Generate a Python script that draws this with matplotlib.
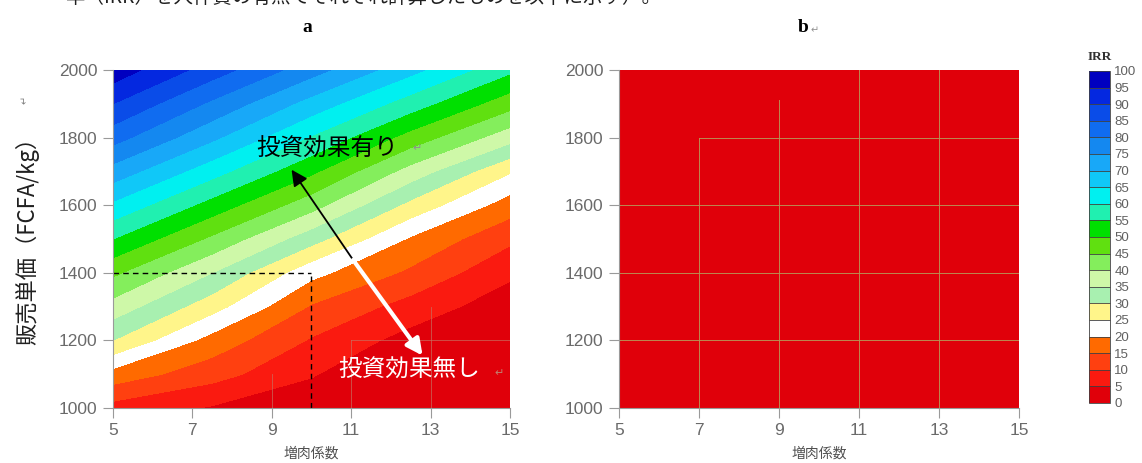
import numpy as np
import matplotlib
matplotlib.use('Agg')
import matplotlib.pyplot as plt
from matplotlib.colors import ListedColormap, BoundaryNorm
import matplotlib.cm as cm

# ---------------- data ----------------
x_fcr = [5, 7.5, 10, 12.5, 15]                       # 増肉係数
y_price = [1000, 1100, 1200, 1300, 1400, 1500,
           1600, 1700, 1800, 1900, 2000]             # 販売単価 (FCFA/kg)
# IRR (%) for panel a, rows = price, columns = 増肉係数
irr_a = [
    [8.0, 4.5, 1.0, -7.0, -15.0],
    [18.0, 12.0, 5.5, -1.5, -9.0],
    [30.0, 18.0, 9.5, 3.0, -3.0],
    [38.0, 27.0, 14.5, 8.0, 2.0],
    [46.0, 35.0, 21.5, 14.0, 6.0],
    [55.0, 44.0, 32.0, 19.3, 11.0],
    [64.0, 53.0, 42.0, 28.5, 17.5],
    [73.0, 62.0, 51.0, 38.0, 25.5],
    [82.0, 71.0, 59.5, 48.0, 37.0],
    [90.0, 79.0, 68.0, 57.5, 47.0],
    [98.0, 87.5, 77.0, 66.5, 56.0],
]
# panel b: IRR below 0 everywhere
x_b = [5, 15]
y_b = [1000, 2000]
irr_b = [[-20.0, -30.0],
         [-5.0, -12.0]]

irr_levels = list(range(0, 105, 5))
irr_colors = ['#E0000A', '#FA1A10', '#FF4010', '#FF6A00', '#FFFFFF',
              '#FFF58A', '#A8F0B0', '#CEF8A8', '#84EE5C', '#60E010',
              '#00E000', '#20F0B0', '#00F0F0', '#10C8F8', '#18A8F8',
              '#1488F0', '#106CF0', '#0A4CE8', '#0428E0', '#0000C0']

x_ticks = [5, 7, 9, 11, 13, 15]
y_ticks = [1000, 1200, 1400, 1600, 1800, 2000]

# reference point (dashed guides)
ref_x, ref_y = 10, 1400

# ---------------- figure ----------------
fig = plt.figure(figsize=(11.42, 4.63), dpi=100)
cmap = ListedColormap(irr_colors)
cmap.set_under(irr_colors[0])
norm = BoundaryNorm(irr_levels, cmap.N)

ax_a = fig.add_axes([0.0989, 0.1188, 0.3476, 0.7300])
ax_b = fig.add_axes([0.5420, 0.1188, 0.3503, 0.7300])
cax = fig.add_axes([0.9536, 0.1296, 0.0184, 0.7171])

ax_a.contourf(x_fcr, y_price, np.array(irr_a), levels=irr_levels,
              cmap=cmap, norm=norm, extend='min')
ax_b.contourf(x_b, y_b, np.array(irr_b), levels=irr_levels,
              cmap=cmap, norm=norm, extend='min')

tick_gray = '#6a6a6a'
for ax in (ax_a, ax_b):
    ax.set_xlim(5, 15)
    ax.set_ylim(1000, 2000)
    ax.set_xticks(x_ticks)
    ax.set_yticks(y_ticks)
    for s in ('top', 'right'):
        ax.spines[s].set_visible(False)
    for s in ('left', 'bottom'):
        ax.spines[s].set_color('#9a9a9a')
        ax.spines[s].set_linewidth(0.8)
    ax.tick_params(direction='out', length=7, width=0.8, color='#9a9a9a',
                   labelcolor=tick_gray, labelsize=12.5, pad=4)
    for lab in ax.get_xticklabels() + ax.get_yticklabels():
        lab.set_fontfamily('Liberation Sans')

# faint artefact lines in panel a
faint_a = [((9, 9), (1000, 1100)), ((11, 11), (1000, 1200)),
           ((13, 13), (1000, 1300)), ((11, 15), (1200, 1200))]
for xs, ys in faint_a:
    ax_a.plot(xs, ys, color='#C87060', lw=0.6, alpha=0.8)

# faint grid lines in panel b
faint_b = [((7, 7), (1000, 1800)), ((9, 9), (1000, 1910)),
           ((11, 11), (1000, 2000)), ((13, 13), (1000, 2000)),
           ((5, 15), (1200, 1200)), ((5, 15), (1400, 1400)),
           ((5, 15), (1600, 1600)), ((7, 15), (1800, 1800))]
for xs, ys in faint_b:
    ax_b.plot(xs, ys, color='#B89858', lw=0.7, alpha=0.9)

# dashed guides
ax_a.plot([5, ref_x], [ref_y, ref_y], color='black', lw=1.0, ls=(0, (4, 3)))
ax_a.plot([ref_x, ref_x], [1000, ref_y], color='black', lw=1.0, ls=(0, (4, 3)))

# arrows
ax_a.annotate('', xy=(9.5, 1705), xytext=(11.05, 1438),
              arrowprops=dict(arrowstyle='-|>', color='black', lw=1.3,
                              mutation_scale=24, shrinkA=0, shrinkB=0))
ax_a.annotate('', xy=(12.8, 1155), xytext=(11.05, 1438),
              arrowprops=dict(arrowstyle='-|>', color='white', lw=3.0,
                              mutation_scale=24, shrinkA=0, shrinkB=0))

jp = ['Noto Sans CJK JP', 'DejaVu Sans']
ax_a.text(10.4, 1765, '投資効果有り', fontsize=17, family=jp, color='black',
          ha='center', va='center')
ax_a.text(12.55, 1768, '↵', fontsize=8, color='#909090', ha='left', va='center')
ax_a.text(12.45, 1112, '投資効果無し', fontsize=17, family=jp, color='white',
          ha='center', va='center')
ax_a.text(14.6, 1103, '↵', fontsize=8, color='#C08070', ha='left', va='center')

# axis labels
ax_a.set_xlabel('増肉係数', family=jp, fontsize=10, color='#505050', labelpad=6)
ax_b.set_xlabel('増肉係数', family=jp, fontsize=10, color='#505050', labelpad=6)
fig.text(27 / 1142, 1 - 235 / 463, '販売単価（FCFA/kg）', family=jp, fontsize=16,
         rotation=90, ha='center', va='center', color='#202020')
fig.text(25 / 1142, 1 - 100 / 463, '↵', fontsize=7, rotation=90, color='#808080',
         ha='center', va='center')

# panel titles
fig.text(307 / 1142, 1 - 28 / 463, 'a', family='Liberation Serif', fontweight='bold',
         fontsize=14, ha='center', va='center')
fig.text(803 / 1142, 1 - 28 / 463, 'b', family='Liberation Serif', fontweight='bold',
         fontsize=14, ha='center', va='center')
fig.text(811 / 1142, 1 - 30 / 463, '↵', fontsize=7, color='#909090',
         ha='left', va='center')

# cut-off sentence at the top (as in the reference)
fig.text(65 / 1142, 1 + 3 / 463, '率（IRR）を人件費の有無でそれぞれ計算したものを以下に示す）。',
         family=jp, fontsize=14, ha='left', va='center', color='#202020')

# colorbar
sm = cm.ScalarMappable(norm=norm, cmap=ListedColormap(irr_colors))
cb = fig.colorbar(sm, cax=cax, ticks=irr_levels, drawedges=True)
cb.outline.set_linewidth(0.6)
cb.outline.set_edgecolor('#404040')
cb.dividers.set_color('#404040')
cb.dividers.set_linewidth(0.6)
cax.tick_params(length=0, labelsize=9.5, labelcolor='#606060', pad=3)
for lab in cax.get_yticklabels():
    lab.set_fontfamily('Liberation Sans')
fig.text(1100 / 1142, 1 - 57 / 463, 'IRR', family='Liberation Serif',
         fontweight='bold', fontsize=9.5, ha='center', va='center', color='#303030')

fig.savefig('out.png', dpi=100)
